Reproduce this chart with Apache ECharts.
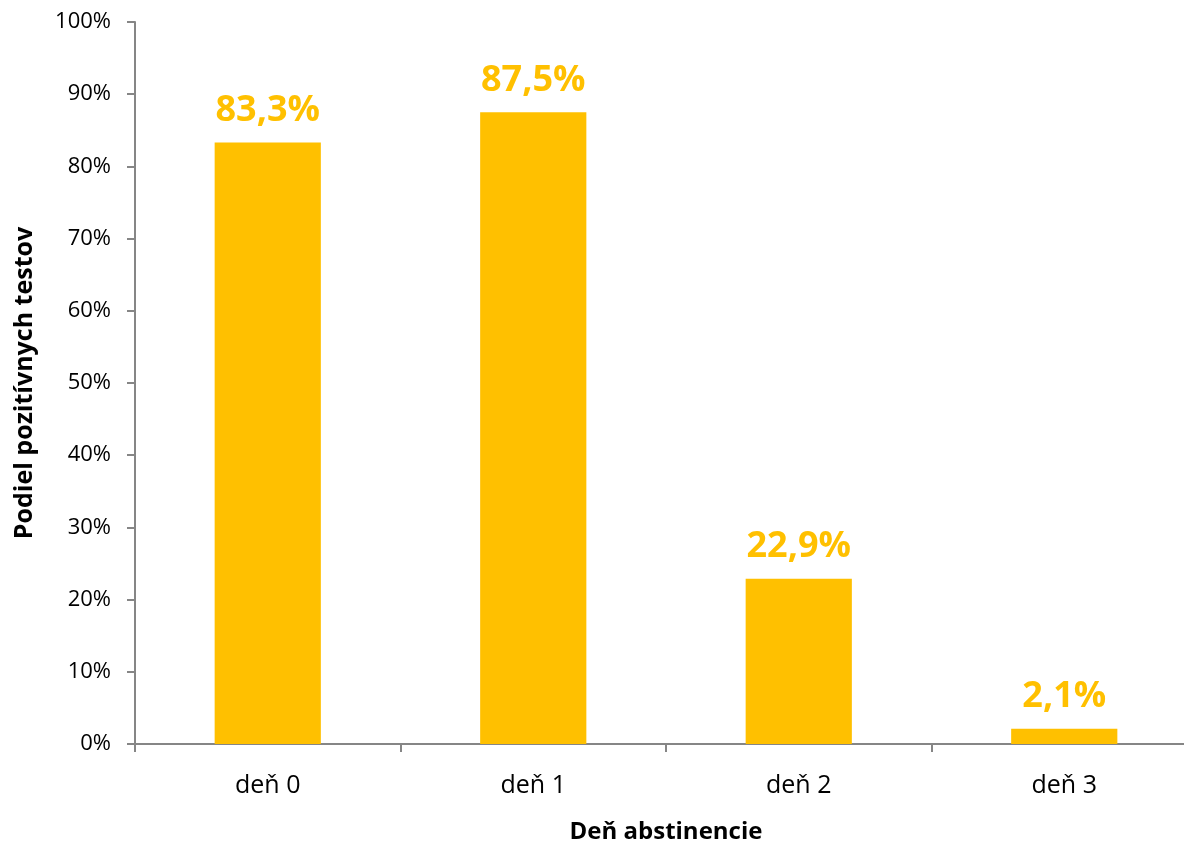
<!DOCTYPE html>
<html><head><meta charset="utf-8">
<script src="https://cdn.jsdelivr.net/npm/echarts@6/dist/echarts.min.js"></script>
<style>html,body{margin:0;padding:0;background:#fff}#c{width:1184px;height:848px}</style>
</head><body><div id="c"></div>
<script>
const categories = ['deň 0', 'deň 1', 'deň 2', 'deň 3'];
const values = [83.3, 87.5, 22.9, 2.1];
const yTicks = [0, 10, 20, 30, 40, 50, 60, 70, 80, 90, 100];
const xTitle = 'Deň abstinencie';
const yTitle = 'Podiel pozitívnych testov';

const FONT = '"Open Sans", "Liberation Sans", sans-serif';
const axisGray = '#868686';
const chart = echarts.init(document.getElementById('c'));
chart.setOption({
  animation: false,
  grid: { left: 135, right: -13, top: 22, bottom: 104, containLabel: false, outerBoundsMode: 'none' },
  xAxis: {
    type: 'category', data: categories,
    name: xTitle, nameLocation: 'middle', nameGap: 76,
    nameTextStyle: { fontFamily: FONT, fontSize: 24, fontWeight: 'bold', color: '#000' },
    axisLine: { lineStyle: { color: axisGray, width: 2 } },
    axisTick: { show: true, length: 8, lineStyle: { color: axisGray, width: 2 } },
    axisLabel: { fontFamily: FONT, fontSize: 25, color: '#000', margin: 29 }
  },
  yAxis: {
    type: 'value', min: yTicks[0], max: yTicks[yTicks.length - 1], interval: 10,
    name: yTitle, nameLocation: 'middle', nameGap: 98, nameRotate: 90,
    nameTextStyle: { fontFamily: FONT, fontSize: 25, fontWeight: 'bold', color: '#000' },
    axisLine: { show: true, lineStyle: { color: axisGray, width: 2 } },
    axisTick: { show: true, length: 8, lineStyle: { color: axisGray, width: 2 } },
    splitLine: { show: false },
    axisLabel: { fontFamily: FONT, fontSize: 22, color: '#000', margin: 24, formatter: v => v + '%' }
  },
  series: [{
    type: 'bar', data: values, barWidth: '40%',
    itemStyle: { color: '#FFC000' },
    label: {
      show: true, position: 'top', distance: 14,
      fontFamily: FONT, fontSize: 36, fontWeight: 'bold', color: '#FFC000',
      formatter: p => p.value.toFixed(1).replace('.', ',') + '%'
    }
  }]
});
</script></body></html>
